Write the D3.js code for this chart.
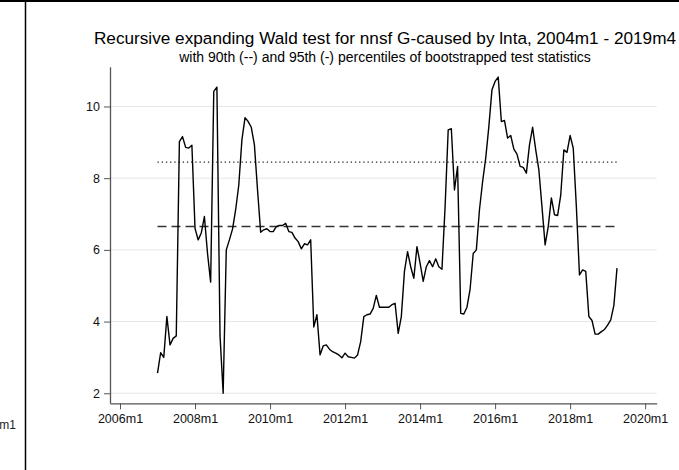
<!DOCTYPE html>
<html>
<head>
<meta charset="utf-8">
<script src="https://cdn.jsdelivr.net/npm/d3@7.9.0/dist/d3.min.js"></script>
<style>
  body { margin: 0; background: #fff; }
  svg { display: block; font-family: "Liberation Sans", Arial, Helvetica, sans-serif; }
</style>
</head>
<body>
<svg id="chart" width="679" height="470"></svg>
<script>
// monthly Wald statistics, 2007m1 .. 2019m4
const startMonth = 12; // months after 2006m1
const waldStat = [
  2.56, 3.13, 3.0, 4.14, 3.35, 3.53, 3.6, 9.02, 9.16, 8.86, 8.84, 8.92,
  6.6, 6.28, 6.47, 6.93, 5.9, 5.1, 10.42, 10.54, 3.6, 2.0, 6.0, 6.28,
  6.58, 7.12, 7.81, 9.07, 9.69, 9.58, 9.42, 8.93, 7.67, 6.49, 6.56, 6.59,
  6.51, 6.51, 6.65, 6.68, 6.68, 6.74, 6.51, 6.49, 6.33, 6.23, 6.03, 6.17,
  6.14, 6.28, 3.85, 4.19, 3.07, 3.32, 3.35, 3.23, 3.16, 3.12, 3.07, 2.99,
  3.12, 3.02, 3.0, 2.98, 3.07, 3.44, 4.14, 4.19, 4.21, 4.37, 4.73, 4.4,
  4.4, 4.4, 4.4, 4.47, 4.51, 3.67, 4.14, 5.4, 5.95, 5.53, 5.21, 6.09,
  5.63, 5.12, 5.53, 5.7, 5.53, 5.75, 5.53, 5.46, 7.2, 9.35, 9.38, 7.67,
  8.33, 4.23, 4.21, 4.4, 4.9, 5.9, 6.0, 7.12, 7.9, 8.56, 9.44, 10.47,
  10.7, 10.82, 9.58, 9.61, 9.12, 9.19, 8.81, 8.67, 8.33, 8.3, 8.14, 8.93,
  9.42, 8.79, 8.23, 7.2, 6.14, 6.65, 7.45, 6.98, 6.96, 7.53, 8.79, 8.72,
  9.19, 8.84, 7.2, 5.3, 5.44, 5.4, 4.14, 4.03, 3.65, 3.65, 3.72, 3.78,
  3.9, 4.05, 4.45, 5.49
];
const pct90 = 6.65;
const pct95 = 8.45;
const yTicks = [2, 4, 6, 8, 10];
const xTickYears = [2006, 2008, 2010, 2012, 2014, 2016, 2018, 2020];

const titleText = "Recursive expanding Wald test for nnsf G-caused by lnta, 2004m1 - 2019m4";
const subtitleText = "with 90th (--) and 95th (-) percentiles of bootstrapped test statistics";

const svg = d3.select('#chart');

const x = d3.scaleLinear().domain([-3.2, 171.7]).range([110, 656.7]);
const y = d3.scaleLinear().domain([1.72, 11.11]).range([403.3, 66.7]);

// panel frame
svg.append('rect').attr('x', 0).attr('y', 0).attr('width', 679).attr('height', 470).attr('fill', '#fff');
svg.append('line').attr('x1', 0).attr('x2', 679).attr('y1', 1).attr('y2', 1)
  .attr('stroke', '#000').attr('stroke-width', 2);
svg.append('line').attr('x1', 25.5).attr('x2', 25.5).attr('y1', 0).attr('y2', 470)
  .attr('stroke', '#000').attr('stroke-width', 1.5);
// cut-off label of the neighbouring panel
svg.append('text').attr('x', 16).attr('y', 429).attr('text-anchor', 'end')
  .attr('font-size', 12).attr('fill', '#222').text('2020m1');

// gridlines
svg.append('g').selectAll('line').data(yTicks).join('line')
  .attr('x1', x.range()[0]).attr('x2', x.range()[1])
  .attr('y1', d => y(d)).attr('y2', d => y(d))
  .attr('stroke', '#e6e6e6').attr('stroke-width', 1);

// axes
const yAxis = svg.append('g').attr('transform', `translate(${x.range()[0]},0)`)
  .call(d3.axisLeft(y).tickValues(yTicks).tickSize(6).tickPadding(4).tickSizeOuter(0));
const xAxis = svg.append('g').attr('transform', `translate(0,${y.range()[0]})`)
  .call(d3.axisBottom(x).tickValues(xTickYears.map(yr => (yr - 2006) * 12))
    .tickFormat(d => `${2006 + d / 12}m1`).tickSize(6).tickPadding(5).tickSizeOuter(0));
[yAxis, xAxis].forEach(g => {
  g.select('.domain').attr('stroke', '#555').attr('stroke-width', 1.3);
  g.selectAll('.tick line').attr('stroke', '#555').attr('stroke-width', 1);
  g.selectAll('text').attr('font-size', 12.5).attr('fill', '#111')
    .attr('font-family', '"Liberation Sans", Arial, Helvetica, sans-serif');
});

// percentile reference lines
const refStart = startMonth, refEnd = startMonth + waldStat.length - 1;
svg.append('line').attr('x1', x(refStart)).attr('x2', x(refEnd))
  .attr('y1', y(pct95)).attr('y2', y(pct95))
  .attr('stroke', '#222').attr('stroke-width', 1.2).attr('stroke-dasharray', '1.3,2.9');
svg.append('line').attr('x1', x(refStart)).attr('x2', x(refEnd))
  .attr('y1', y(pct90)).attr('y2', y(pct90))
  .attr('stroke', '#333').attr('stroke-width', 1.5).attr('stroke-dasharray', '9,5');

// series
const line = d3.line().x((d, i) => x(startMonth + i)).y(d => y(d));
svg.append('path').datum(waldStat).attr('d', line)
  .attr('fill', 'none').attr('stroke', '#000').attr('stroke-width', 1.4)
  .attr('stroke-linejoin', 'round');

// titles
svg.append('text').attr('x', 385).attr('y', 44).attr('text-anchor', 'middle')
  .attr('font-size', 17.2).attr('fill', '#000').text(titleText);
svg.append('text').attr('x', 385).attr('y', 62).attr('text-anchor', 'middle')
  .attr('font-size', 14).attr('fill', '#000').text(subtitleText);
</script>
</body>
</html>
